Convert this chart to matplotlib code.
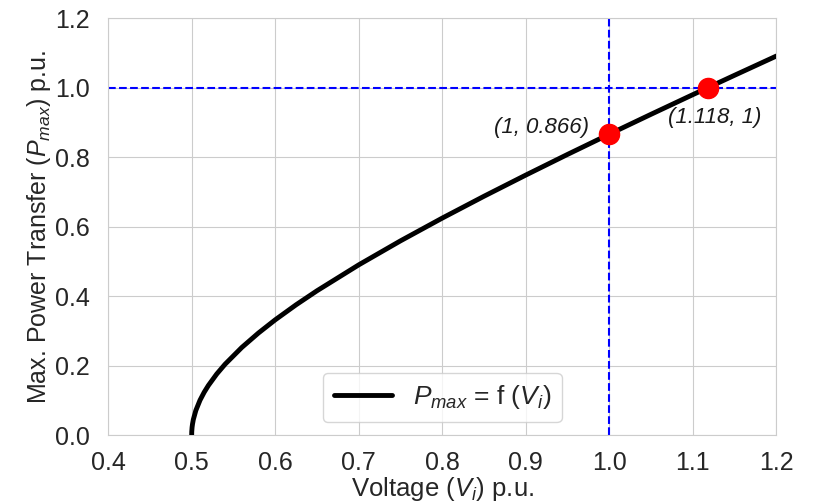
import matplotlib
matplotlib.use("Agg")
import matplotlib.pyplot as plt
import seaborn as sns

# curve (voltage p.u. -> max power p.u.)
voltage = [0.5, 0.5001, 0.5005, 0.501, 0.502, 0.505, 0.51, 0.515, 0.52, 0.53, 0.54,
           0.56, 0.58, 0.6, 0.625, 0.65, 0.7, 0.75, 0.8, 0.85, 0.9, 0.95,
           1.0, 1.05, 1.1, 1.15, 1.2]
p_max = [0.0, 0.0100, 0.0224, 0.0316, 0.0448, 0.0709, 0.1005, 0.1234, 0.1428, 0.1758, 0.2040,
         0.2522, 0.2939, 0.3317, 0.3750, 0.4153, 0.4899, 0.5590, 0.6245, 0.6874, 0.7483, 0.8078,
         0.8660, 0.9233, 0.9798, 1.0356, 1.0909]

marked_v = [1.0, 1.118]
marked_p = [0.866, 1.0]
marked_labels = ["(1, 0.866)", "(1.118, 1)"]

x_ticks = [0.4, 0.5, 0.6, 0.7, 0.8, 0.9, 1.0, 1.1, 1.2]
y_ticks = [0.0, 0.2, 0.4, 0.6, 0.8, 1.0, 1.2]

sns.set_style("whitegrid")
plt.rcParams["font.family"] = ["Liberation Sans", "DejaVu Sans"]
plt.rcParams["mathtext.fontset"] = "custom"
plt.rcParams["mathtext.rm"] = "Liberation Sans"
plt.rcParams["mathtext.it"] = "Liberation Sans:italic"

fig = plt.figure(figsize=(8.13, 5.03), dpi=100)
ax = fig.add_axes([0.133, 0.135, 0.822, 0.829])

ax.plot(voltage, p_max, color="black", lw=3.5, label=r"$P_{max}$ = f ($V_i$)", zorder=3)
ax.axvline(1.0, color="blue", ls="--", lw=1.5, zorder=2)
ax.axhline(1.0, color="blue", ls="--", lw=1.5, zorder=2)
ax.plot(marked_v, marked_p, "o", color="red", ms=14.5, zorder=4)

ax.annotate(marked_labels[0], (marked_v[0], marked_p[0]), xytext=(-15, 5),
            textcoords="offset points", ha="right", va="center",
            fontsize=16, style="italic", color="#1a1a1a")
ax.annotate(marked_labels[1], (marked_v[1], marked_p[1]), xytext=(5, -21.5),
            textcoords="offset points", ha="center", va="center",
            fontsize=16, style="italic", color="#1a1a1a")

ax.set_xlim(0.4, 1.2)
ax.set_ylim(0.0, 1.2)
ax.set_xticks(x_ticks)
ax.set_yticks(y_ticks)
ax.tick_params(labelsize=18, colors="#262626")
ax.tick_params(axis="y", pad=10)
ax.tick_params(axis="x", pad=8)
ax.set_xlabel(r"Voltage ($V_i$) p.u.", fontsize=18.5, color="#262626", labelpad=0)
ax.set_ylabel(r"Max. Power Transfer ($P_{max}$) p.u.", fontsize=18, color="#262626", labelpad=1)
ax.legend(loc="lower center", fontsize=19, handlelength=2.2, bbox_to_anchor=(0.5, 0.0))

fig.savefig("out.png", dpi=100)
